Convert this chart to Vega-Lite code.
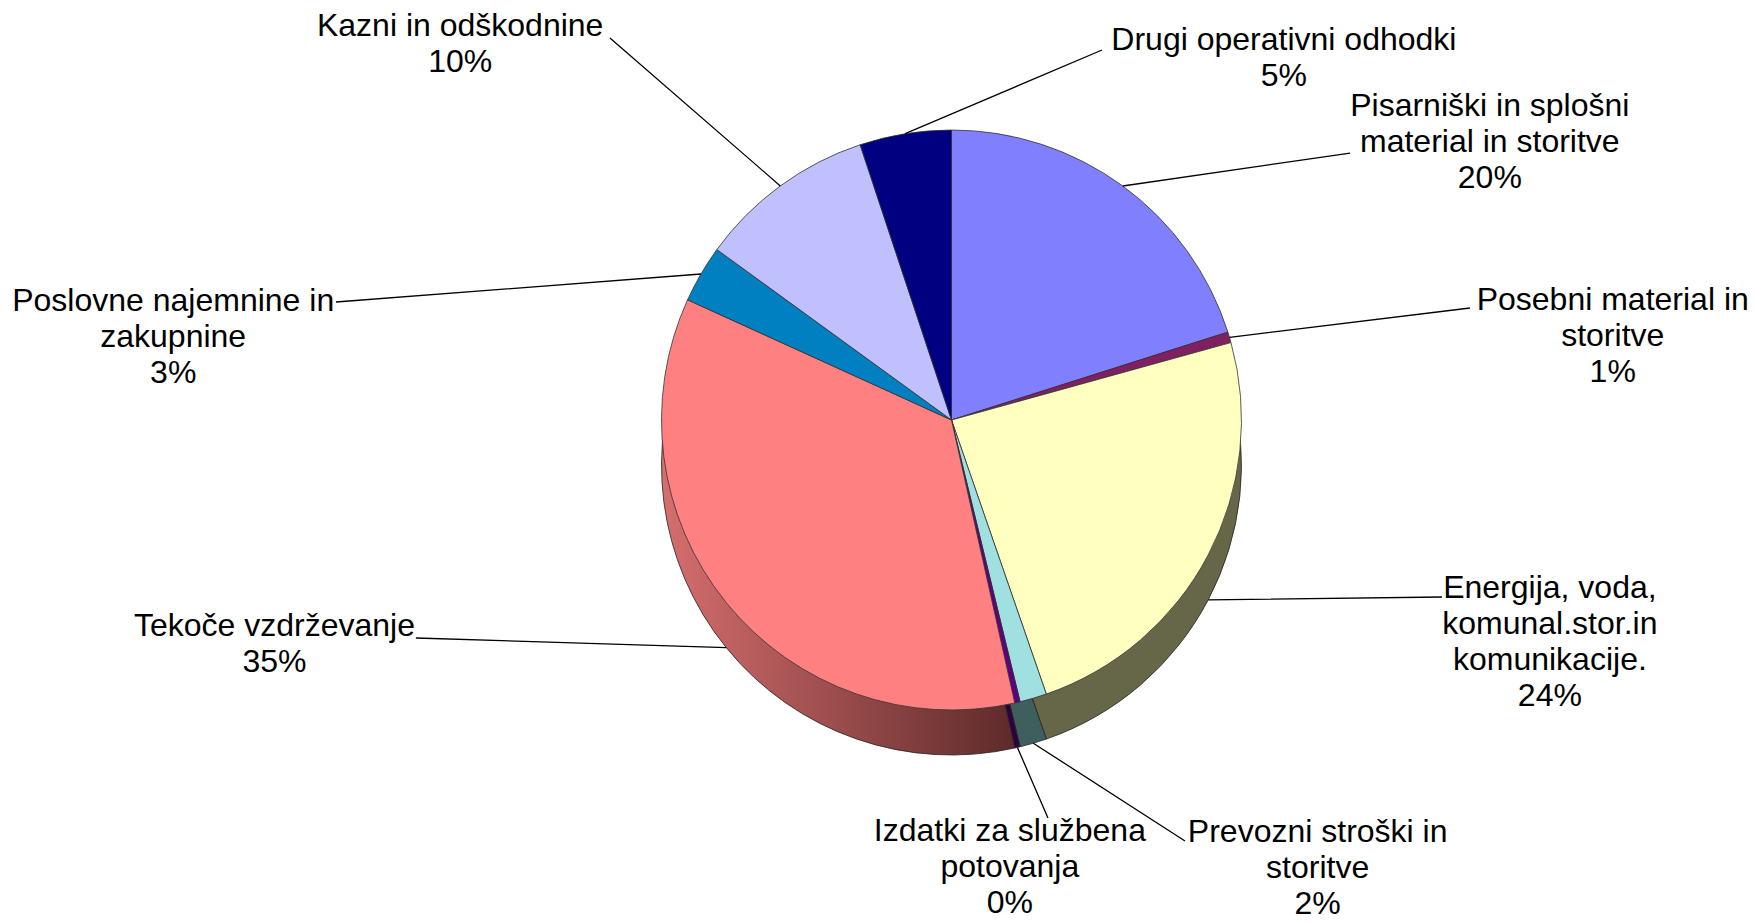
{
  "$schema": "https://vega.github.io/schema/vega-lite/v6.json",
  "width": 1607,
  "height": 840,
  "autosize": "none",
  "padding": {"left": 148, "right": 0, "top": 0, "bottom": 83},
  "background": "white",
  "config": {"font": "Liberation Sans", "view": {"stroke": null}},
  "data": {"values": [
    {"k": 1, "name": "Pisarniški in splošni material in storitve", "v": 20.1, "label": "Pisarniški in splošni\nmaterial in storitve\n20%"},
    {"k": 2, "name": "Posebni material in storitve", "v": 0.6, "label": "Posebni material in\nstoritve\n1%"},
    {"k": 3, "name": "Energija, voda, komunal.stor.in komunikacije.", "v": 24.0, "label": "Energija, voda,\nkomunal.stor.in\nkomunikacije.\n24%"},
    {"k": 4, "name": "Prevozni stroški in storitve", "v": 1.5, "label": "Prevozni stroški in\nstoritve\n2%"},
    {"k": 5, "name": "Izdatki za službena potovanja", "v": 0.3, "label": "Izdatki za službena\npotovanja\n0%"},
    {"k": 6, "name": "Tekoče vzdrževanje", "v": 35.3, "label": "Tekoče vzdrževanje\n35%"},
    {"k": 7, "name": "Poslovne najemnine in zakupnine", "v": 3.2, "label": "Poslovne najemnine in\nzakupnine\n3%"},
    {"k": 8, "name": "Kazni in odškodnine", "v": 9.9, "label": "Kazni in odškodnine\n10%"},
    {"k": 9, "name": "Drugi operativni odhodki", "v": 5.1, "label": "Drugi operativni odhodki\n5%"}
  ]},
  "encoding": {
    "theta": {"field": "v", "type": "quantitative", "stack": true},
    "order": {"field": "k", "type": "quantitative"}
  },
  "layer": [
    {
      "mark": {"type": "arc", "outerRadius": 290, "yOffset": 45, "stroke": "#222222", "strokeWidth": 0.8},
      "encoding": {
        "color": {
          "condition": {"test": "datum.k === 6", "value": {"gradient": "linear", "x1": 0, "y1": 0, "x2": 1, "y2": 0, "stops": [{"offset": 0, "color": "#D66E6E"}, {"offset": 1, "color": "#5E2A2A"}]}},
          "field": "k", "type": "nominal",
          "scale": {"domain": [1, 2, 3, 4, 5, 6, 7, 8, 9], "range": ["#4D4D99", "#4D1339", "#666649", "#3F5F5F", "#2E0040", "#A04C4C", "#004D73", "#737399", "#00004D"]},
          "legend": null
        }
      }
    },
    {
      "mark": {"type": "arc", "outerRadius": 290, "stroke": "#333333", "strokeWidth": 0.8},
      "encoding": {
        "color": {
          "field": "name", "type": "nominal",
          "scale": {
            "domain": ["Pisarniški in splošni material in storitve", "Posebni material in storitve", "Energija, voda, komunal.stor.in komunikacije.", "Prevozni stroški in storitve", "Izdatki za službena potovanja", "Tekoče vzdrževanje", "Poslovne najemnine in zakupnine", "Kazni in odškodnine", "Drugi operativni odhodki"],
            "range": ["#8080FF", "#802060", "#FFFFC0", "#A0E0E0", "#600080", "#FF8080", "#0080C0", "#C0C0FF", "#000080"]
          },
          "legend": null
        }
      }
    },
    {
      "mark": {"type": "arc", "innerRadius": 0, "outerRadius": 229.6, "padAngle": 3.1416, "thetaOffset": 0.7952, "theta2Offset": 0.7952, "xOffset": 171.3, "yOffset": -234.0, "stroke": "#000000", "strokeWidth": 1.3, "fillOpacity": 0},
      "encoding": {"detail": {"field": "name"}, "strokeOpacity": {"condition": {"test": "datum.k === 1", "value": 1}, "value": 0}}
    },
    {
      "mark": {"type": "arc", "innerRadius": 0, "outerRadius": 242.3, "padAngle": 3.1416, "thetaOffset": 0.1674, "theta2Offset": 0.1674, "xOffset": 278.0, "yOffset": -82.6, "stroke": "#000000", "strokeWidth": 1.3, "fillOpacity": 0},
      "encoding": {"detail": {"field": "name"}, "strokeOpacity": {"condition": {"test": "datum.k === 2", "value": 1}, "value": 0}}
    },
    {
      "mark": {"type": "arc", "innerRadius": 0, "outerRadius": 233.8, "padAngle": 3.1416, "thetaOffset": -0.4962, "theta2Offset": -0.4962, "xOffset": 256.7, "yOffset": 179.9, "stroke": "#000000", "strokeWidth": 1.3, "fillOpacity": 0},
      "encoding": {"detail": {"field": "name"}, "strokeOpacity": {"condition": {"test": "datum.k === 3", "value": 1}, "value": 0}}
    },
    {
      "mark": {"type": "arc", "innerRadius": 0, "outerRadius": 180.5, "padAngle": 3.1416, "thetaOffset": -0.7123, "theta2Offset": -0.7123, "xOffset": 81.8, "yOffset": 323.2, "stroke": "#000000", "strokeWidth": 1.3, "fillOpacity": 0},
      "encoding": {"detail": {"field": "name"}, "strokeOpacity": {"condition": {"test": "datum.k === 4", "value": 1}, "value": 0}}
    },
    {
      "mark": {"type": "arc", "innerRadius": 0, "outerRadius": 77.0, "padAngle": 3.1416, "thetaOffset": -0.1790, "theta2Offset": -0.1790, "xOffset": 65.9, "yOffset": 327.4, "stroke": "#000000", "strokeWidth": 1.3, "fillOpacity": 0},
      "encoding": {"detail": {"field": "name"}, "strokeOpacity": {"condition": {"test": "datum.k === 5", "value": 1}, "value": 0}}
    },
    {
      "mark": {"type": "arc", "innerRadius": 0, "outerRadius": 310.5, "padAngle": 3.1416, "thetaOffset": 0.7130, "theta2Offset": 0.7130, "xOffset": -225.2, "yOffset": 227.7, "stroke": "#000000", "strokeWidth": 1.3, "fillOpacity": 0},
      "encoding": {"detail": {"field": "name"}, "strokeOpacity": {"condition": {"test": "datum.k === 6", "value": 1}, "value": 0}}
    },
    {
      "mark": {"type": "arc", "innerRadius": 0, "outerRadius": 366.1, "padAngle": 3.1416, "thetaOffset": -0.6044, "theta2Offset": -0.6044, "xOffset": -250.5, "yOffset": -146.0, "stroke": "#000000", "strokeWidth": 1.3, "fillOpacity": 0},
      "encoding": {"detail": {"field": "name"}, "strokeOpacity": {"condition": {"test": "datum.k === 7", "value": 1}, "value": 0}}
    },
    {
      "mark": {"type": "arc", "innerRadius": 0, "outerRadius": 225.6, "padAngle": 3.1416, "thetaOffset": -0.2243, "theta2Offset": -0.2243, "xOffset": -171.2, "yOffset": -234.1, "stroke": "#000000", "strokeWidth": 1.3, "fillOpacity": 0},
      "encoding": {"detail": {"field": "name"}, "strokeOpacity": {"condition": {"test": "datum.k === 8", "value": 1}, "value": 0}}
    },
    {
      "mark": {"type": "arc", "innerRadius": 0, "outerRadius": 213.9, "padAngle": 3.1416, "thetaOffset": 1.3289, "theta2Offset": 1.3289, "xOffset": -46.3, "yOffset": -286.3, "stroke": "#000000", "strokeWidth": 1.3, "fillOpacity": 0},
      "encoding": {"detail": {"field": "name"}, "strokeOpacity": {"condition": {"test": "datum.k === 9", "value": 1}, "value": 0}}
    },
    {
      "mark": {"type": "text", "radius": 380, "dx": 314, "dy": -7, "fontSize": 32, "lineHeight": 36, "lineBreak": "\n", "align": "center", "baseline": "middle", "color": "#000000"},
      "encoding": {"detail": {"field": "name"}, "text": {"condition": {"test": "datum.k === 1", "field": "label"}, "value": ""}}
    },
    {
      "mark": {"type": "text", "radius": 380, "dx": 297, "dy": -12, "fontSize": 32, "lineHeight": 36, "lineBreak": "\n", "align": "center", "baseline": "middle", "color": "#000000"},
      "encoding": {"detail": {"field": "name"}, "text": {"condition": {"test": "datum.k === 2", "field": "label"}, "value": ""}}
    },
    {
      "mark": {"type": "text", "radius": 380, "dx": 262, "dy": -9, "fontSize": 32, "lineHeight": 36, "lineBreak": "\n", "align": "center", "baseline": "middle", "color": "#000000"},
      "encoding": {"detail": {"field": "name"}, "text": {"condition": {"test": "datum.k === 3", "field": "label"}, "value": ""}}
    },
    {
      "mark": {"type": "text", "radius": 380, "dx": 259, "dy": 47, "fontSize": 32, "lineHeight": 36, "lineBreak": "\n", "align": "center", "baseline": "middle", "color": "#000000"},
      "encoding": {"detail": {"field": "name"}, "text": {"condition": {"test": "datum.k === 4", "field": "label"}, "value": ""}}
    },
    {
      "mark": {"type": "text", "radius": 380, "dx": -28, "dy": 41, "fontSize": 32, "lineHeight": 36, "lineBreak": "\n", "align": "center", "baseline": "middle", "color": "#000000"},
      "encoding": {"detail": {"field": "name"}, "text": {"condition": {"test": "datum.k === 5", "field": "label"}, "value": ""}}
    },
    {
      "mark": {"type": "text", "radius": 380, "dx": -382, "dy": -33, "fontSize": 32, "lineHeight": 36, "lineBreak": "\n", "align": "center", "baseline": "middle", "color": "#000000"},
      "encoding": {"detail": {"field": "name"}, "text": {"condition": {"test": "datum.k === 6", "field": "label"}, "value": ""}}
    },
    {
      "mark": {"type": "text", "radius": 380, "dx": -450, "dy": 72, "fontSize": 32, "lineHeight": 36, "lineBreak": "\n", "align": "center", "baseline": "middle", "color": "#000000"},
      "encoding": {"detail": {"field": "name"}, "text": {"condition": {"test": "datum.k === 7", "field": "label"}, "value": ""}}
    },
    {
      "mark": {"type": "text", "radius": 380, "dx": -267, "dy": -87, "fontSize": 32, "lineHeight": 36, "lineBreak": "\n", "align": "center", "baseline": "middle", "color": "#000000"},
      "encoding": {"detail": {"field": "name"}, "text": {"condition": {"test": "datum.k === 8", "field": "label"}, "value": ""}}
    },
    {
      "mark": {"type": "text", "radius": 380, "dx": 393, "dy": -5, "fontSize": 32, "lineHeight": 36, "lineBreak": "\n", "align": "center", "baseline": "middle", "color": "#000000"},
      "encoding": {"detail": {"field": "name"}, "text": {"condition": {"test": "datum.k === 9", "field": "label"}, "value": ""}}
    }
  ],
  "resolve": {"scale": {"color": "independent"}}
}
